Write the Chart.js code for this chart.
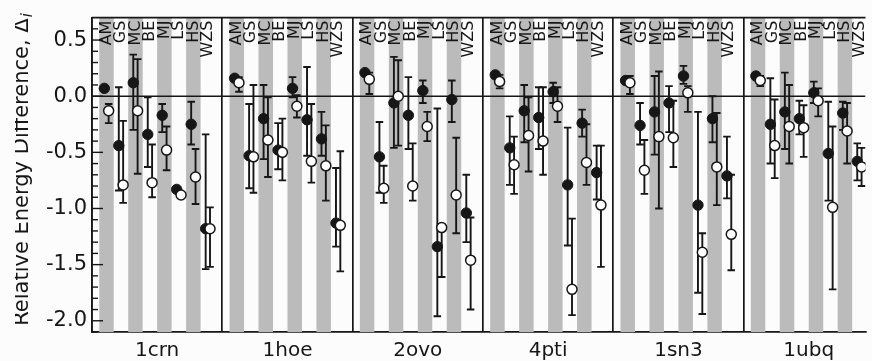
<!DOCTYPE html>
<html>
<head>
<meta charset="utf-8">
<title>Relative energy difference</title>
<script src="https://cdn.jsdelivr.net/npm/chart.js@4.4.1/dist/chart.umd.min.js"></script>
<style>
  html, body { margin: 0; padding: 0; background: #fcfcfc; }
  canvas { display: block; }
</style>
</head>
<body>
<canvas id="energyChart" width="872" height="361"></canvas>
<script>
const proteins = ['1crn', '1hoe', '2ovo', '4pti', '1sn3', '1ubq'];
const methods = ['AM', 'GS', 'MC', 'BE', 'MJ', 'LS', 'HS', 'WZS'];

// filled circles, one row per protein, one column per method
const filledVal = [
    [0.07, -0.44, 0.12, -0.34, -0.17, -0.83, -0.25, -1.18],
    [0.16, -0.53, -0.20, -0.48, 0.07, -0.21, -0.38, -1.13],
    [0.21, -0.54, -0.06, -0.17, 0.05, -1.34, -0.03, -1.04],
    [0.19, -0.46, -0.13, -0.19, 0.04, -0.79, -0.24, -0.68],
    [0.14, -0.26, -0.14, -0.06, 0.18, -0.97, -0.20, -0.71],
    [0.18, -0.25, -0.14, -0.20, 0.03, -0.51, -0.15, -0.58]
];
const filledHi = [
    [null, 0.08, 0.37, -0.01, -0.07, null, -0.05, -0.34],
    [null, -0.07, 0.10, -0.24, 0.17, 0.26, -0.14, -0.64],
    [null, -0.23, 0.35, 0.17, 0.14, -0.11, 0.14, -0.70],
    [null, -0.18, 0.10, 0.08, 0.12, -0.28, -0.12, -0.44],
    [null, -0.06, 0.18, 0.09, 0.27, -0.14, 0.00, -0.36],
    [null, 0.16, 0.21, -0.04, 0.13, -0.05, -0.05, -0.42]
];
const filledLo = [
    [null, -0.84, -0.30, -0.63, -0.32, null, -0.43, -1.54],
    [null, -0.82, -0.56, -0.65, -0.01, -0.53, -0.53, -1.34],
    [null, -0.86, -0.46, -0.47, -0.06, -1.96, -0.23, -1.30],
    [null, -0.79, -0.41, -0.47, -0.06, -1.33, -0.36, -0.92],
    [null, -0.43, -0.52, -0.32, 0.11, -1.75, -0.41, -0.91],
    [null, -0.60, -0.47, -0.34, -0.06, -0.93, -0.30, -0.75]
];

// open circles
const openVal = [
    [-0.13, -0.79, -0.13, -0.77, -0.48, -0.88, -0.72, -1.18],
    [0.12, -0.54, -0.39, -0.50, -0.09, -0.58, -0.62, -1.15],
    [0.15, -0.82, 0.00, -0.80, -0.27, -1.17, -0.88, -1.46],
    [0.13, -0.61, -0.35, -0.40, -0.09, -1.72, -0.59, -0.97],
    [0.12, -0.66, -0.36, -0.37, 0.03, -1.39, -0.63, -1.23],
    [0.14, -0.44, -0.27, -0.28, -0.04, -0.99, -0.31, -0.63]
];
const openHi = [
    [-0.07, -0.22, 0.33, -0.43, -0.27, null, -0.47, -0.99],
    [0.17, 0.10, -0.01, -0.20, 0.01, -0.07, -0.26, -0.49],
    [0.21, -0.62, 0.32, -0.42, -0.14, -1.14, -0.37, -1.08],
    [0.19, -0.36, -0.01, 0.08, 0.08, -1.09, -0.25, -0.44],
    [0.18, -0.39, 0.22, -0.04, 0.09, -1.22, -0.15, -0.70],
    [0.18, -0.03, 0.10, -0.08, 0.07, -0.27, -0.06, -0.46]
];
const openLo = [
    [-0.24, -0.95, -0.69, -0.90, -0.66, null, -0.96, -1.52],
    [0.04, -0.86, -0.72, -0.75, -0.19, -0.77, -0.93, -1.56],
    [0.02, -0.95, -0.44, -0.93, -0.40, -1.61, -1.22, -1.90],
    [0.07, -0.87, -0.67, -0.70, -0.23, -1.95, -0.79, -1.52],
    [0.02, -0.87, -1.00, -0.63, -0.14, -1.94, -0.97, -1.55],
    [0.09, -0.73, -0.60, -0.54, -0.18, -1.72, -0.60, -0.80]
];

const yTickLabels = [-2.0, -1.5, -1.0, -0.5, 0.0, 0.5];
const yMinorStep = 0.1;
const yMin = -2.10, yMax = 0.70;

document.addEventListener('DOMContentLoaded', function () {
    const slotsPerPanel = 9;
    const xMax = 53.42;      // last panel is cut at the right edge
    const pairShift = 0.15;  // filled left, open right
    const capHalf = 0.26;
    const ink = '#161616';

    const slot = (k, i) => k * slotsPerPanel + i + 1;

    // grey stripes behind every other method column
    var stripes = [];
    proteins.forEach((p, k) => {
        methods.forEach((m, i) => {
            if (i % 2 === 0) stripes.push({ x: slot(k, i), y: [yMin, yMax] });
        });
    });

    const points = (vals, shift) => {
        var out = [];
        vals.forEach((row, k) => row.forEach((v, i) => out.push({ x: slot(k, i) + shift, y: v })));
        return out;
    };

    // error bars as one broken line: stem + two caps per bar
    const errorBars = (his, los, shift) => {
        var out = [];
        his.forEach((row, k) => row.forEach((hi, i) => {
            const lo = los[k][i];
            if (hi === null || lo === null) return;
            const x = slot(k, i) + shift;
            out.push({ x: x, y: hi }, { x: x, y: lo }, { x: x, y: null });
            out.push({ x: x - capHalf, y: hi }, { x: x + capHalf, y: hi }, { x: x, y: null });
            out.push({ x: x - capHalf, y: lo }, { x: x + capHalf, y: lo }, { x: x, y: null });
        }));
        return out;
    };

    const panelTicks = [];
    for (let k = 0; k < proteins.length; k++) {
        panelTicks.push(k * slotsPerPanel, k * slotsPerPanel + slotsPerPanel / 2);
    }

    const decorations = {
        id: 'decorations',
        afterDatasetsDraw(chart) {
            const ctx = chart.ctx;
            const area = chart.chartArea;
            const xs = chart.scales.x;
            const ys = chart.scales.y;
            ctx.save();
            ctx.strokeStyle = ink;
            ctx.lineWidth = 1.6;
            // top frame line
            ctx.beginPath();
            ctx.moveTo(area.left, area.top);
            ctx.lineTo(area.right, area.top);
            ctx.stroke();
            // inward ticks on the energy axis
            ctx.lineWidth = 1.4;
            for (let n = Math.ceil(yMin / yMinorStep); n * yMinorStep <= yMax; n++) {
                const v = n * yMinorStep;
                const y = ys.getPixelForValue(v);
                const len = n % 5 === 0 ? 11 : 6;
                ctx.beginPath();
                ctx.moveTo(area.left, y);
                ctx.lineTo(area.left + len, y);
                ctx.stroke();
            }
            // method names along the top of each column
            ctx.fillStyle = ink;
            ctx.font = '16px "DejaVu Sans"';
            ctx.textAlign = 'right';
            ctx.textBaseline = 'middle';
            proteins.forEach((p, k) => {
                methods.forEach((m, i) => {
                    const x = xs.getPixelForValue(slot(k, i));
                    if (x > area.right) return;
                    ctx.save();
                    ctx.translate(x, area.top + 3);
                    ctx.rotate(-Math.PI / 2);
                    ctx.fillText(m, 0, 0);
                    ctx.restore();
                });
            });
            ctx.restore();
        },
        afterDraw(chart) {
            // y axis title, cut at the left like the scan
            const ctx = chart.ctx;
            const main = 'Relative Energy Difference, \u0394';
            ctx.save();
            ctx.beginPath();
            ctx.rect(15, 0, 60, chart.height);
            ctx.clip();
            ctx.fillStyle = ink;
            ctx.font = '21px "DejaVu Sans"';
            const wMain = ctx.measureText(main).width;
            ctx.font = 'italic 15px "DejaVu Sans"';
            const wSub = ctx.measureText('i').width;
            ctx.translate(28, 170);
            ctx.rotate(-Math.PI / 2);
            ctx.textAlign = 'left';
            ctx.textBaseline = 'alphabetic';
            const start = -(wMain + wSub) / 2;
            ctx.font = '21px "DejaVu Sans"';
            ctx.fillText(main, start, 0);
            ctx.font = 'italic 15px "DejaVu Sans"';
            ctx.fillText('i', start + wMain + 1, 4);
            ctx.restore();
        }
    };

    var energyCtx = document.getElementById('energyChart').getContext('2d');
    var energyChart = new Chart(energyCtx, {
        type: 'scatter',
        data: {
            datasets: [{
                label: 'open',
                type: 'scatter',
                data: points(openVal, pairShift),
                backgroundColor: '#ffffff',
                borderColor: ink,
                borderWidth: 1.5,
                pointRadius: 5,
                order: 1
            }, {
                label: 'filled',
                type: 'scatter',
                data: points(filledVal, -pairShift),
                backgroundColor: ink,
                borderColor: ink,
                borderWidth: 1,
                pointRadius: 5.2,
                order: 2
            }, {
                label: 'open errors',
                type: 'line',
                data: errorBars(openHi, openLo, pairShift),
                borderColor: ink,
                borderWidth: 1.9,
                pointRadius: 0,
                spanGaps: false,
                order: 4
            }, {
                label: 'filled errors',
                type: 'line',
                data: errorBars(filledHi, filledLo, -pairShift),
                borderColor: ink,
                borderWidth: 1.9,
                pointRadius: 0,
                spanGaps: false,
                order: 5
            }, {
                label: 'zero',
                type: 'line',
                data: [{ x: 0, y: 0 }, { x: xMax, y: 0 }],
                borderColor: ink,
                borderWidth: 1.5,
                pointRadius: 0,
                order: 8
            }, {
                label: 'stripes',
                type: 'bar',
                data: stripes,
                backgroundColor: '#bbbbbb',
                borderWidth: 0,
                categoryPercentage: 1,
                barPercentage: 0.5,
                order: 10
            }]
        },
        options: {
            responsive: false,
            animation: false,
            layout: { padding: { left: 0, top: 13, right: 0, bottom: 0 } },
            plugins: {
                legend: { display: false },
                tooltip: { enabled: false }
            },
            scales: {
                x: {
                    type: 'linear',
                    offset: false,
                    min: 0,
                    max: xMax,
                    afterFit: (scale) => { scale.height = 29; },
                    afterBuildTicks: (scale) => { scale.ticks = panelTicks.map(v => ({ value: v })); },
                    ticks: {
                        autoSkip: false,
                        maxRotation: 0,
                        padding: 7,
                        color: ink,
                        font: { family: 'DejaVu Sans', size: 20 },
                        callback: (v) => (v % slotsPerPanel === 0 ? '' : proteins[Math.floor(v / slotsPerPanel)])
                    },
                    grid: {
                        offset: false,
                        drawTicks: false,
                        lineWidth: 1.7,
                        color: (c) => (c.tick && c.tick.value % slotsPerPanel === 0 ? ink : 'rgba(0,0,0,0)')
                    },
                    border: { display: true, color: ink, width: 1.7 }
                },
                y: {
                    min: yMin,
                    max: yMax,
                    afterFit: (scale) => { scale.width = 92; },
                    afterBuildTicks: (scale) => { scale.ticks = yTickLabels.map(v => ({ value: v })); },
                    ticks: {
                        padding: 5,
                        color: ink,
                        font: { family: 'DejaVu Sans', size: 21 },
                        callback: (v) => v.toFixed(1)
                    },
                    grid: { display: false, drawTicks: false },
                    border: { display: true, color: ink, width: 1.7 }
                }
            }
        },
        plugins: [decorations]
    });
});
</script>
</body>
</html>
